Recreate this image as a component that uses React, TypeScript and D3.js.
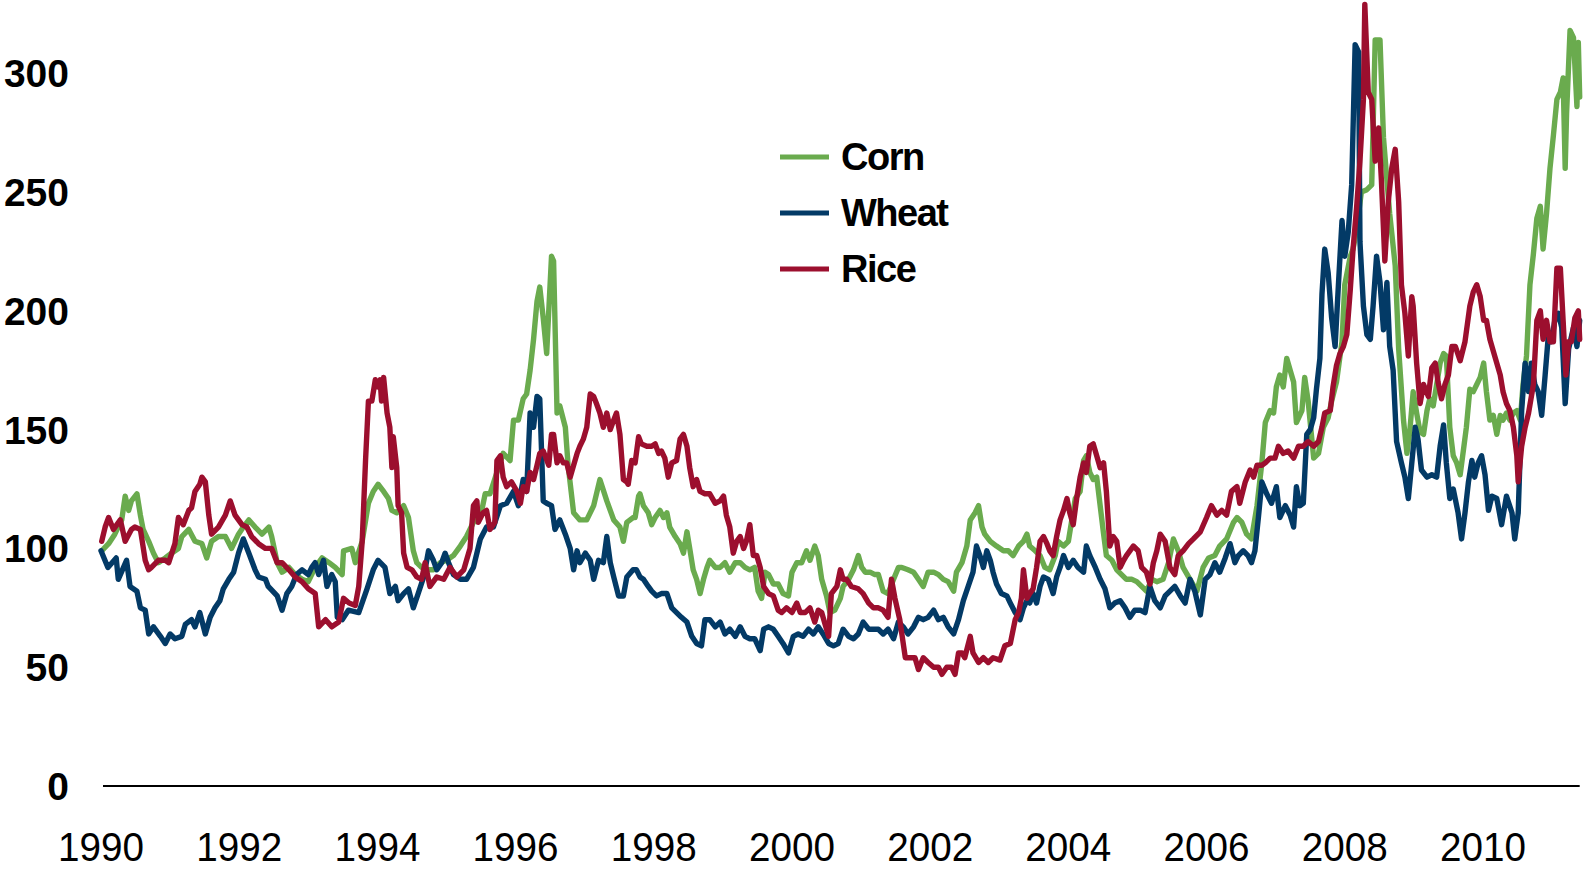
import React from 'react';
import * as d3 from 'd3';

// x ticks (years) and y ticks
const yearTicks = [1990, 1992, 1994, 1996, 1998, 2000, 2002, 2004, 2006, 2008, 2010];
const valueTicks = [0, 50, 100, 150, 200, 250, 300];

const seriesNames = ['Corn', 'Wheat', 'Rice'];
const seriesColors = ['#6aab4e', '#033a66', '#9c0f2e'];

// [decimal year, index value]
const corn: [number, number][] = [
  [1990.01,99],[1990.11,102],[1990.20,106],[1990.30,112],[1990.35,122],[1990.40,116],[1990.44,120],[1990.52,123],[1990.57,114],[1990.61,108],[1990.69,103],[1990.76,98],[1990.83,94],[1990.93,96],[1991.02,98],[1991.12,100],[1991.17,105],[1991.27,108],[1991.36,103],[1991.46,102],[1991.53,96],[1991.60,103],[1991.70,105],[1991.80,105],[1991.89,100],[1991.99,106],[1992.06,109],[1992.14,112],[1992.23,109],[1992.33,106],[1992.43,109],[1992.47,105],[1992.55,94],[1992.62,90],[1992.72,92],[1992.81,89],[1992.91,87],[1993.00,86],[1993.10,92],[1993.20,96],[1993.30,94],[1993.39,92],[1993.49,89],[1993.51,99],[1993.63,100],[1993.68,94],[1993.78,103],[1993.87,119],
  [1993.94,124],[1994.01,127],[1994.09,124],[1994.16,121],[1994.21,116],[1994.28,115],[1994.38,118],[1994.45,113],[1994.52,99],[1994.57,94],[1994.64,92],[1994.71,91],[1994.81,91],[1994.91,94],[1995.00,95],[1995.10,97],[1995.20,101],[1995.29,105],[1995.39,111],[1995.49,113],[1995.56,123],[1995.63,123],[1995.73,132],[1995.82,140],[1995.92,137],[1995.97,154],[1996.04,154],[1996.11,163],[1996.16,165],[1996.21,175],[1996.26,188],[1996.31,204],[1996.35,210],[1996.40,197],[1996.45,182],[1996.48,200],[1996.52,223],[1996.55,221],[1996.60,157],[1996.64,160],[1996.72,151],[1996.76,135],[1996.84,115],[1996.93,112],[1997.03,112],[1997.13,118],[1997.22,129],[1997.32,120],[1997.42,112],[1997.51,109],[1997.56,103],[1997.61,111],[1997.70,113],
  [1997.73,113],[1997.78,122],[1997.80,123],[1997.85,118],[1997.92,115],[1997.97,110],[1998.02,113],[1998.09,116],[1998.14,113],[1998.19,115],[1998.23,109],[1998.31,105],[1998.38,102],[1998.43,98],[1998.48,107],[1998.52,100],[1998.57,91],[1998.62,87],[1998.67,81],[1998.72,87],[1998.77,92],[1998.81,95],[1998.89,92],[1998.96,92],[1999.03,94],[1999.10,90],[1999.18,94],[1999.25,94],[1999.32,92],[1999.39,91],[1999.46,92],[1999.51,82],[1999.56,79],[1999.61,90],[1999.66,89],[1999.73,85],[1999.80,85],[1999.87,81],[1999.95,80],[2000.00,90],[2000.07,94],[2000.14,94],[2000.21,99],[2000.26,95],[2000.33,101],[2000.38,97],[2000.43,87],[2000.50,80],[2000.55,73],[2000.62,74],[2000.70,79],[2000.74,84],[2000.82,87],[2000.89,91],[2000.96,97],[2001.01,92],[2001.06,90],[2001.13,90],[2001.20,89],[2001.25,89],[2001.32,82],[2001.39,81],[2001.47,87],[2001.54,92],
  [2001.59,92],[2001.68,91],[2001.76,90],[2001.83,87],[2001.90,84],[2001.97,90],[2002.05,90],[2002.12,89],[2002.19,87],[2002.26,86],[2002.34,82],[2002.38,90],[2002.46,94],[2002.53,101],[2002.58,112],[2002.65,115],[2002.70,118],[2002.75,109],[2002.79,106],[2002.87,103],[2002.96,101],[2003.06,99],[2003.13,99],[2003.20,97],[2003.28,101],[2003.35,103],[2003.40,106],[2003.44,101],[2003.52,99],[2003.59,97],[2003.66,92],[2003.73,91],[2003.81,97],[2003.85,103],[2003.93,101],[2004.00,103],[2004.05,112],[2004.10,121],[2004.17,124],[2004.22,137],[2004.26,139],[2004.31,132],[2004.36,129],[2004.41,130],[2004.46,118],[2004.51,106],[2004.55,97],[2004.63,95],[2004.70,91],[2004.77,89],[2004.84,87],[2004.92,87],[2004.99,86],[2005.06,84],[2005.13,82],[2005.21,87],[2005.28,86],
  [2005.37,87],[2005.45,94],[2005.52,104],[2005.59,99],[2005.66,92],[2005.76,87],[2005.86,82],[2005.95,92],[2006.03,96],[2006.12,97],[2006.19,101],[2006.29,104],[2006.39,111],[2006.44,113],[2006.51,111],[2006.58,106],[2006.65,104],[2006.73,118],[2006.80,136],[2006.85,153],[2006.92,158],[2006.97,157],[2007.01,168],[2007.06,173],[2007.11,168],[2007.16,180],[2007.21,175],[2007.26,170],[2007.30,153],[2007.38,158],[2007.42,172],[2007.47,162],[2007.55,138],[2007.62,140],[2007.69,151],[2007.76,155],[2007.81,162],[2007.88,170],[2007.96,187],[2008.00,211],[2008.08,223],[2008.12,226],[2008.17,234],[2008.24,250],[2008.32,251],[2008.39,253],[2008.44,314],[2008.51,314],[2008.56,273],[2008.61,255],[2008.65,241],[2008.73,219],[2008.78,184],
  [2008.85,154],[2008.90,140],[2008.94,149],[2008.99,166],[2009.04,157],[2009.09,149],[2009.14,148],[2009.19,158],[2009.23,163],[2009.28,160],[2009.33,169],[2009.38,178],[2009.43,182],[2009.47,181],[2009.52,151],[2009.57,139],[2009.62,136],[2009.67,131],[2009.72,142],[2009.76,151],[2009.81,167],[2009.86,166],[2009.91,169],[2009.96,172],[2010.01,178],[2010.05,166],[2010.10,154],[2010.15,156],[2010.20,148],[2010.25,156],[2010.29,154],[2010.34,157],[2010.39,154],[2010.44,157],[2010.49,158],[2010.54,154],[2010.58,169],[2010.63,181],[2010.68,211],[2010.73,224],[2010.78,239],[2010.83,244],[2010.87,226],[2010.92,241],[2010.97,260],[2011.02,274],[2011.07,289],[2011.12,292],[2011.16,298],[2011.19,260],[2011.21,283],[2011.26,318],[2011.31,315],[2011.36,286],[2011.38,313],[2011.40,290],
];

const wheat: [number, number][] = [
  [1990.00,99],[1990.10,92],[1990.22,96],[1990.25,87],[1990.37,95],[1990.42,84],[1990.52,82],[1990.57,75],[1990.64,74],[1990.69,64],[1990.76,67],[1990.86,63],[1990.93,60],[1991.00,64],[1991.07,62],[1991.17,63],[1991.22,68],[1991.31,70],[1991.36,67],[1991.43,73],[1991.51,64],[1991.58,71],[1991.65,75],[1991.72,78],[1991.77,83],[1991.85,87],[1991.92,90],[1991.99,98],[1992.06,104],[1992.14,98],[1992.23,91],[1992.28,88],[1992.38,87],[1992.42,84],[1992.55,80],[1992.62,74],[1992.69,81],[1992.76,84],[1992.83,89],[1992.91,91],[1993.00,89],[1993.05,92],[1993.10,94],[1993.15,89],[1993.22,95],[1993.27,84],[1993.34,89],[1993.39,86],[1993.42,71],[1993.49,70],[1993.58,74],[1993.73,73],
  [1993.85,83],[1993.94,91],[1994.01,95],[1994.11,92],[1994.18,81],[1994.26,84],[1994.30,78],[1994.38,81],[1994.45,83],[1994.52,75],[1994.59,81],[1994.67,88],[1994.74,99],[1994.81,95],[1994.86,91],[1994.93,94],[1994.98,98],[1995.03,94],[1995.10,89],[1995.20,87],[1995.29,87],[1995.39,92],[1995.49,104],[1995.58,109],[1995.68,109],[1995.78,118],[1995.87,119],[1995.97,124],[1996.04,118],[1996.11,129],[1996.16,124],[1996.21,157],[1996.26,151],[1996.31,164],[1996.35,163],[1996.40,120],[1996.45,119],[1996.52,118],[1996.57,108],[1996.64,112],[1996.72,106],[1996.79,100],[1996.84,91],[1996.89,99],[1996.93,94],[1997.01,98],[1997.08,95],[1997.13,87],[1997.20,95],[1997.27,94],[1997.32,105],[1997.37,94],[1997.42,88],[1997.49,80],[1997.56,80],[1997.61,88],[1997.70,91],
  [1997.75,91],[1997.80,88],[1997.85,87],[1997.92,84],[1997.97,82],[1998.04,80],[1998.11,81],[1998.19,81],[1998.26,75],[1998.33,73],[1998.40,71],[1998.48,69],[1998.55,63],[1998.62,60],[1998.69,59],[1998.74,70],[1998.81,70],[1998.89,67],[1998.96,69],[1999.03,64],[1999.10,66],[1999.18,63],[1999.25,67],[1999.32,63],[1999.39,62],[1999.46,62],[1999.54,57],[1999.59,66],[1999.66,67],[1999.73,66],[1999.80,63],[1999.87,60],[1999.95,56],[2000.02,63],[2000.09,64],[2000.16,63],[2000.24,66],[2000.31,64],[2000.38,67],[2000.45,64],[2000.53,60],[2000.60,59],[2000.67,60],[2000.74,66],[2000.82,63],[2000.89,62],[2000.96,64],[2001.03,69],[2001.11,66],[2001.18,66],[2001.25,66],[2001.32,64],[2001.39,66],[2001.47,62],[2001.54,69],
  [2001.61,67],[2001.68,64],[2001.76,67],[2001.83,71],[2001.90,70],[2001.97,71],[2002.05,74],[2002.12,70],[2002.19,71],[2002.26,67],[2002.34,64],[2002.41,70],[2002.48,78],[2002.55,84],[2002.62,90],[2002.67,101],[2002.72,97],[2002.77,92],[2002.82,99],[2002.87,95],[2002.91,90],[2002.96,85],[2003.03,81],[2003.11,80],[2003.16,77],[2003.23,73],[2003.30,70],[2003.35,75],[2003.40,78],[2003.44,77],[2003.49,81],[2003.54,77],[2003.59,84],[2003.64,88],[2003.71,87],[2003.78,81],[2003.83,88],[2003.88,92],[2003.93,97],[2004.00,92],[2004.07,95],[2004.14,92],[2004.22,90],[2004.26,101],[2004.31,97],[2004.39,92],[2004.46,87],[2004.53,83],[2004.60,75],[2004.67,77],[2004.75,78],[2004.82,75],[2004.89,71],[2004.96,74],[2005.04,74],[2005.11,73],[2005.18,84],[2005.25,78],[2005.33,75],[2005.40,80],
  [2005.47,82],[2005.54,84],[2005.62,80],[2005.69,77],[2005.76,87],[2005.83,82],[2005.91,72],[2005.98,87],[2006.05,89],[2006.12,94],[2006.19,90],[2006.27,96],[2006.34,102],[2006.41,94],[2006.46,97],[2006.53,99],[2006.60,97],[2006.65,94],[2006.70,99],[2006.75,113],[2006.80,128],[2006.87,123],[2006.94,119],[2007.01,126],[2007.06,113],[2007.14,118],[2007.21,114],[2007.26,109],[2007.30,126],[2007.35,118],[2007.40,119],[2007.45,148],[2007.50,150],[2007.55,155],[2007.59,167],[2007.64,180],[2007.67,207],[2007.71,226],[2007.76,216],[2007.81,197],[2007.86,185],[2007.91,212],[2007.96,238],[2008.00,223],[2008.05,233],[2008.10,253],[2008.15,312],[2008.20,309],[2008.22,229],[2008.27,202],[2008.32,190],[2008.37,188],[2008.41,202],[2008.46,223],[2008.51,212],[2008.56,192],[2008.61,212],[2008.65,185],[2008.70,175],[2008.75,145],
  [2008.82,136],[2008.87,130],[2008.92,121],[2008.97,136],[2009.02,151],[2009.06,146],[2009.11,133],[2009.19,130],[2009.26,131],[2009.33,130],[2009.38,143],[2009.43,152],[2009.47,136],[2009.52,121],[2009.57,125],[2009.64,115],[2009.69,104],[2009.74,115],[2009.79,128],[2009.84,137],[2009.88,130],[2009.93,136],[2009.98,139],[2010.03,131],[2010.08,116],[2010.13,122],[2010.20,121],[2010.27,110],[2010.34,122],[2010.42,115],[2010.46,104],[2010.51,115],[2010.56,158],[2010.61,178],[2010.66,166],[2010.70,178],[2010.75,169],[2010.80,166],[2010.85,156],[2010.90,173],[2010.95,191],[2010.99,187],[2011.04,196],[2011.09,199],[2011.14,193],[2011.19,161],[2011.24,184],[2011.31,193],[2011.36,185],[2011.40,196],
];

const rice: [number, number][] = [
  [1990.01,103],[1990.06,109],[1990.11,113],[1990.18,108],[1990.28,112],[1990.35,103],[1990.44,108],[1990.49,109],[1990.57,108],[1990.64,95],[1990.69,91],[1990.73,92],[1990.83,95],[1990.93,95],[1990.98,94],[1991.07,102],[1991.12,113],[1991.19,110],[1991.27,116],[1991.31,117],[1991.36,124],[1991.43,127],[1991.46,130],[1991.51,128],[1991.56,114],[1991.60,106],[1991.70,109],[1991.80,114],[1991.87,120],[1991.94,114],[1992.04,110],[1992.11,109],[1992.18,105],[1992.28,102],[1992.38,100],[1992.47,100],[1992.55,94],[1992.62,94],[1992.72,91],[1992.81,88],[1992.91,86],[1993.00,83],[1993.10,81],[1993.15,67],[1993.25,70],[1993.34,67],[1993.44,69],[1993.51,79],[1993.59,77],[1993.68,76],[1993.73,84],[1993.78,103],[1993.83,138],[1993.87,162],
  [1993.92,162],[1993.97,171],[1994.01,168],[1994.04,171],[1994.06,162],[1994.09,172],[1994.14,157],[1994.18,151],[1994.21,134],[1994.23,147],[1994.28,134],[1994.30,118],[1994.35,115],[1994.38,98],[1994.43,92],[1994.50,91],[1994.57,88],[1994.64,87],[1994.69,94],[1994.76,84],[1994.86,88],[1994.96,87],[1995.05,92],[1995.15,88],[1995.25,91],[1995.29,95],[1995.34,100],[1995.39,118],[1995.44,120],[1995.46,111],[1995.53,115],[1995.58,116],[1995.63,108],[1995.70,111],[1995.73,137],[1995.78,139],[1995.82,130],[1995.87,126],[1995.94,128],[1996.02,124],[1996.07,119],[1996.11,126],[1996.16,124],[1996.21,132],[1996.26,129],[1996.31,135],[1996.35,140],[1996.40,141],[1996.48,135],[1996.52,148],[1996.55,148],[1996.60,136],[1996.64,139],[1996.69,136],[1996.74,136],[1996.79,130],[1996.84,135],[1996.89,140],[1996.93,143],[1996.98,146],[1997.03,151],[1997.08,165],[1997.13,164],[1997.17,161],[1997.22,157],[1997.27,151],[1997.32,157],[1997.37,150],[1997.42,154],[1997.46,157],[1997.51,148],[1997.56,129],[1997.61,128],
  [1997.63,127],[1997.68,137],[1997.73,136],[1997.78,147],[1997.82,144],[1997.90,143],[1997.97,143],[1998.02,144],[1998.07,140],[1998.11,141],[1998.16,138],[1998.21,130],[1998.26,136],[1998.33,137],[1998.38,146],[1998.43,148],[1998.48,143],[1998.52,134],[1998.57,126],[1998.62,129],[1998.67,124],[1998.74,123],[1998.81,123],[1998.89,119],[1998.96,120],[1999.01,122],[1999.05,114],[1999.10,109],[1999.15,98],[1999.20,103],[1999.25,105],[1999.30,100],[1999.34,103],[1999.39,110],[1999.44,97],[1999.49,97],[1999.54,92],[1999.59,84],[1999.66,81],[1999.73,80],[1999.80,74],[1999.85,73],[1999.92,75],[2000.00,73],[2000.07,77],[2000.12,73],[2000.19,73],[2000.26,75],[2000.33,69],[2000.38,74],[2000.43,73],[2000.48,68],[2000.53,63],[2000.57,81],[2000.65,84],[2000.70,91],[2000.74,87],[2000.79,87],[2000.86,84],[2000.96,83],[2001.03,81],[2001.11,77],[2001.18,75],[2001.25,75],[2001.32,74],[2001.39,71],[2001.44,87],[2001.49,79],[2001.56,70],
  [2001.64,54],[2001.71,54],[2001.78,54],[2001.83,49],[2001.90,54],[2001.97,52],[2002.05,50],[2002.12,50],[2002.17,47],[2002.24,50],[2002.31,50],[2002.36,47],[2002.41,56],[2002.46,56],[2002.50,54],[2002.58,63],[2002.62,56],[2002.70,52],[2002.77,54],[2002.84,52],[2002.91,54],[2003.01,53],[2003.08,59],[2003.16,60],[2003.23,70],[2003.28,73],[2003.32,79],[2003.35,91],[2003.40,79],[2003.44,81],[2003.49,83],[2003.54,92],[2003.59,103],[2003.64,105],[2003.69,102],[2003.73,99],[2003.78,97],[2003.83,105],[2003.88,112],[2003.93,116],[2003.98,121],[2004.02,115],[2004.07,110],[2004.12,121],[2004.17,130],[2004.22,136],[2004.26,132],[2004.31,143],[2004.36,144],[2004.41,139],[2004.46,134],[2004.51,136],[2004.55,124],[2004.60,101],[2004.65,105],[2004.70,103],[2004.75,92],[2004.80,95],[2004.84,97],[2004.89,99],[2004.94,101],[2005.01,99],[2005.06,92],[2005.13,90],[2005.18,85],[2005.23,94],[2005.28,99],
  [2005.33,106],[2005.40,103],[2005.47,92],[2005.54,89],[2005.59,97],[2005.66,99],[2005.74,102],[2005.81,104],[2005.91,107],[2006.00,113],[2006.07,118],[2006.15,114],[2006.22,116],[2006.29,114],[2006.36,124],[2006.44,126],[2006.48,119],[2006.56,128],[2006.63,133],[2006.68,130],[2006.73,135],[2006.80,135],[2006.85,136],[2006.92,138],[2006.99,138],[2007.04,143],[2007.11,140],[2007.18,141],[2007.26,138],[2007.33,143],[2007.40,143],[2007.47,145],[2007.55,143],[2007.62,145],[2007.67,151],[2007.71,157],[2007.79,158],[2007.83,168],[2007.88,177],[2007.93,182],[2007.98,185],[2008.03,190],[2008.08,209],[2008.12,226],[2008.17,243],[2008.22,263],[2008.27,289],[2008.29,329],[2008.34,292],[2008.39,289],[2008.44,263],[2008.49,277],[2008.53,255],[2008.58,221],[2008.63,246],[2008.68,260],[2008.73,268],[2008.78,246],
  [2008.82,211],[2008.87,199],[2008.92,181],[2008.97,206],[2008.99,202],[2009.04,178],[2009.09,161],[2009.14,169],[2009.21,164],[2009.26,176],[2009.31,178],[2009.35,170],[2009.40,163],[2009.45,169],[2009.50,173],[2009.55,185],[2009.60,185],[2009.67,179],[2009.74,187],[2009.81,202],[2009.86,208],[2009.91,211],[2009.96,206],[2010.01,196],[2010.05,196],[2010.10,188],[2010.17,181],[2010.25,173],[2010.29,166],[2010.34,161],[2010.39,158],[2010.44,151],[2010.49,139],[2010.51,128],[2010.56,143],[2010.61,151],[2010.66,157],[2010.73,169],[2010.78,196],[2010.83,200],[2010.87,188],[2010.92,196],[2010.97,187],[2011.02,187],[2011.07,218],[2011.12,218],[2011.16,196],[2011.20,173],[2011.24,187],[2011.28,187],[2011.33,197],[2011.38,200],[2011.40,188],
];

const allSeries = [corn, wheat, rice];

export default function App() {
  const width = 1585;
  const height = 873;

  // plot frame
  const x = d3.scaleLinear().domain([1990, 2011.4]).range([101, 1579.7]);
  const y = d3.scaleLinear().domain([0, 330]).range([786, 2]);

  const line = d3.line<[number, number]>()
    .x(d => x(d[0]))
    .y(d => y(d[1]));

  return (
    <svg
      width={width}
      height={height}
      style={{ position: 'absolute', left: 0, top: 0, background: '#fff' }}
      fontFamily="'Liberation Sans', Arial, sans-serif"
    >
      {/* series lines, rice drawn last */}
      {allSeries.map((s, i) => (
        <path
          key={seriesNames[i]}
          d={line(s) || ''}
          fill="none"
          stroke={seriesColors[i]}
          strokeWidth={5.4}
          strokeLinejoin="round"
          strokeLinecap="round"
        />
      ))}

      {/* baseline */}
      <line x1={x(1990) + 2} x2={x(2011.4)} y1={y(0)} y2={y(0)} stroke="#000" strokeWidth={2} />

      {/* y tick labels */}
      {valueTicks.map(v => (
        <text key={v} x={69} y={y(v) + 14} textAnchor="end" fontSize={39} fontWeight="bold" fill="#000">
          {v}
        </text>
      ))}

      {/* x tick labels */}
      {yearTicks.map(t => (
        <text
          key={t}
          x={x(t) - 43}
          y={861}
          fontSize={41}
          fill="#000"
          textLength={86}
          lengthAdjust="spacingAndGlyphs"
        >
          {t}
        </text>
      ))}

      {/* legend */}
      {seriesNames.map((name, i) => {
        const ly = 157 + i * 56;
        return (
          <g key={name}>
            <line x1={780} x2={829} y1={ly} y2={ly} stroke={seriesColors[i]} strokeWidth={5} />
            <text x={841} y={ly + 13} fontSize={38} fontWeight="bold" letterSpacing={-1.5} fill="#000">
              {name}
            </text>
          </g>
        );
      })}
    </svg>
  );
}
